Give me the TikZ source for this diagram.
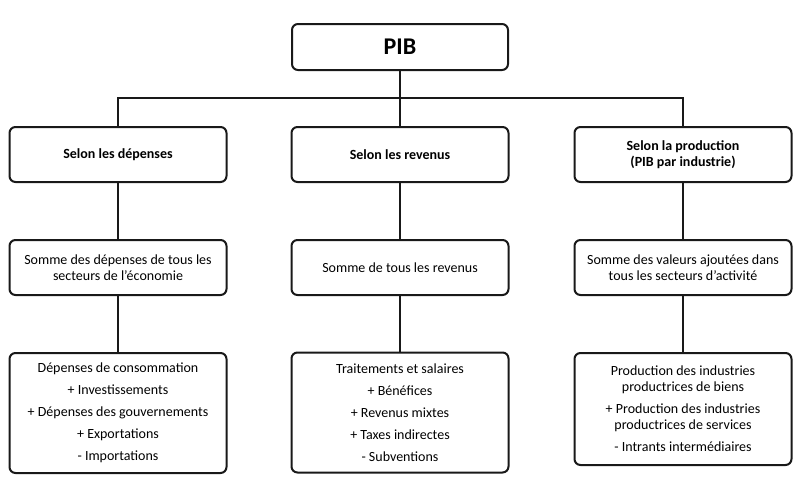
\documentclass[tikz,border=0pt]{standalone}
\usepackage{fontspec}
\setmainfont{Carlito}
\begin{document}
\begin{tikzpicture}[x=1pt,y=-1pt,
  box/.style={draw=black!90,line width=2pt,rounded corners=6pt,fill=white,
    minimum width=217pt,align=center,inner sep=2pt,
    font=\fontsize{14}{16}\selectfont},
  title/.style={box,font=\bfseries\fontsize{14}{16}\selectfont},
  link/.style={draw=black!90,line width=2pt}]
\useasboundingbox (0,0) rectangle (800,496);
\node[box,minimum width=216pt,minimum height=46pt,font=\bfseries\fontsize{24}{28}\selectfont] (pib) at (400,47) {PIB};
\coordinate (bar) at (400,98);
\node[title,minimum height=55pt] (a1) at (118,154.5) {Selon les dépenses};
\node[title,minimum height=55pt] (b1) at (400,154.5) {Selon les revenus};
\node[title,minimum height=55pt] (c1) at (683,154.5) {Selon la production\\(PIB par industrie)};
\node[box,minimum height=55pt] (a2) at (118,267.5) {Somme des dépenses de tous les\\secteurs de l’économie};
\node[box,minimum height=55pt] (b2) at (400,267.5) {Somme de tous les revenus};
\node[box,minimum height=55pt] (c2) at (683,267.5) {Somme des valeurs ajoutées dans\\tous les secteurs d’activité};
\node[box,minimum height=120pt] (a3) at (118,413) {Dépenses de consommation\\[6pt]+ Investissements\\[6pt]+ Dépenses des gouvernements\\[6pt]+ Exportations\\[6pt]- Importations};
\node[box,minimum height=120pt] (b3) at (400,412.5) {Traitements et salaires\\[6pt]+ Bénéfices\\[6pt]+ Revenus mixtes\\[6pt]+ Taxes indirectes\\[6pt]- Subventions};
\node[box,minimum height=112pt] (c3) at (683,409) {Production des industries\\productrices de biens\\[6pt]+ Production des industries\\productrices de services\\[6pt]- Intrants intermédiaires};
\draw[link] (pib.south) -- (bar);
\draw[link] (bar) -| (a1.north);
\draw[link] (bar) -| (c1.north);
\draw[link] (bar) -- (b1.north);
\foreach \k in {a,b,c}{
  \draw[link] (\k1.south) -- (\k2.north);
  \draw[link] (\k2.south) -- (\k3.north);
}
\end{tikzpicture}
\end{document}
